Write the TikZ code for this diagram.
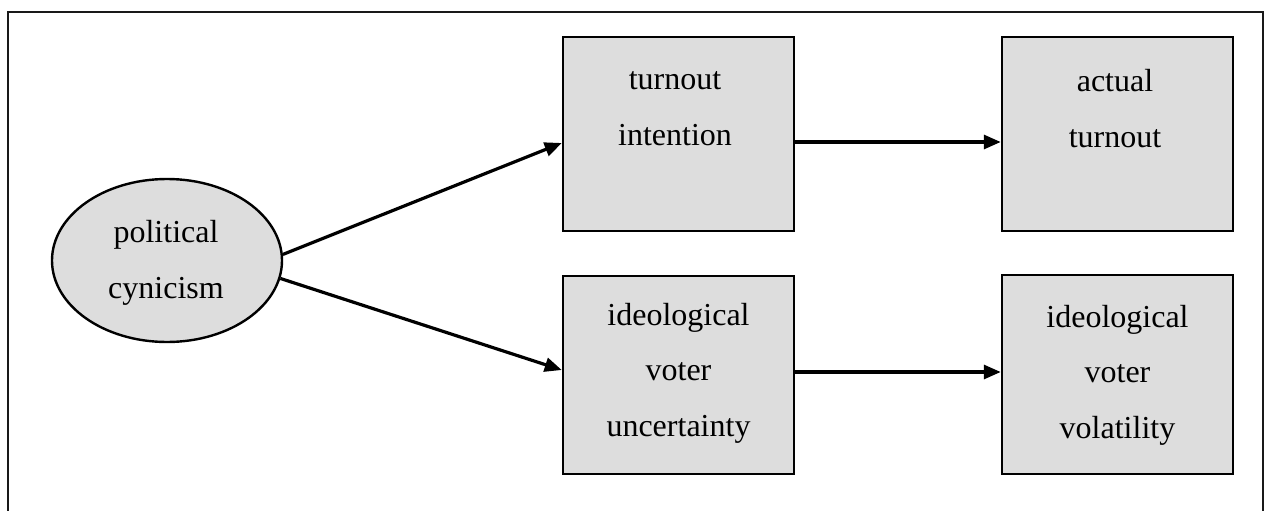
\documentclass[tikz,border=0pt]{standalone}
\usepackage{fontspec}
\setmainfont{Liberation Serif}
\usetikzlibrary{arrows.meta,shapes.geometric}
\definecolor{boxgray}{HTML}{DDDDDD}
\tikzset{
  box/.style={draw=black, line width=2.5pt, fill=boxgray, rectangle, inner sep=0pt},
  oval/.style={draw=black, line width=2.4pt, fill=boxgray, ellipse, inner sep=0pt,
    minimum width=230pt, minimum height=163pt},
  txt/.style={align=center, anchor=base, inner sep=0pt,
    font=\fontsize{32}{55.5}\selectfont},
  conn/.style={line width=3.2pt, -{Triangle[length=17pt,width=14pt]}},
  frame/.style={line width=2.4pt, draw=black!90}
}
\begin{document}
\begin{tikzpicture}[x=1pt,y=-1pt]
\useasboundingbox (0,0) rectangle (1266,511);
\draw[frame] (8,530) -- (8,12) -- (1263,12) -- (1263,530);
% nodes
\node[oval] (pc) at (167,260.5) {};
\node[box, minimum width=231pt, minimum height=194pt] (ti) at (678.5,134) {};
\node[box, minimum width=231pt, minimum height=194pt] (at) at (1117.5,134) {};
\node[box, minimum width=231pt, minimum height=198pt] (ivu) at (678.5,375) {};
\node[box, minimum width=231pt, minimum height=199pt] (ivv) at (1117.5,374.5) {};
% texts (anchor base = last line baseline)
\node[txt] (pct) at (166,298) {political\\cynicism};
\node[txt] (tit) at (675,145) {turnout\\intention};
\node[txt] (att) at (1115,147) {actual\\turnout};
\node[txt] (ivut) at (678.5,436) {ideological\\voter\\uncertainty};
\node[txt] (ivvt) at (1117.5,438) {ideological\\voter\\volatility};
% connectors
\draw[conn] (pc.3) -- ([yshift=-9pt]ti.west);
\draw[conn] (pc.-9) -- ([yshift=5pt]ivu.west);
\draw[conn] ([yshift=-8pt]ti.east) -- ([yshift=-8pt]at.west);
\draw[conn] ([yshift=3pt]ivu.east) -- ([yshift=2.5pt]ivv.west);
\end{tikzpicture}
\end{document}
